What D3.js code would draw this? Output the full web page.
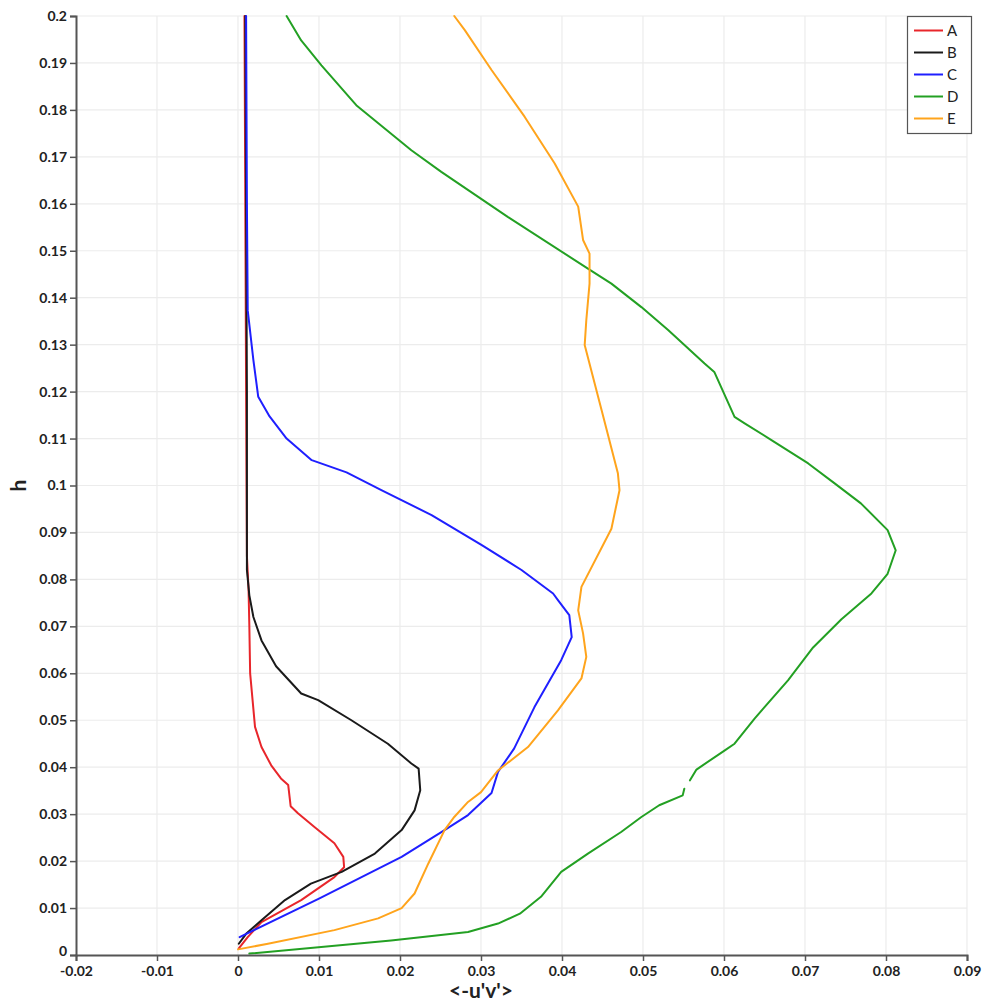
<!DOCTYPE html>
<html>
<head>
<meta charset="utf-8">
<script src="https://cdn.jsdelivr.net/npm/d3@7"></script>
<style>
  html, body { margin: 0; padding: 0; background: #fff; }
  svg { display: block; font-family: Lato, "DejaVu Sans", sans-serif; }
</style>
</head>
<body>
<svg id="chart" width="985" height="1006"></svg>
<script>
// Reynolds shear stress profiles <-u'v'> versus height h
const seriesNames = ["A", "B", "C", "D", "E"];
const seriesColors = ["#e8262b", "#1a1a1a", "#1f1fff", "#23a023", "#ffa41c"];

// [<-u'v'>, h]
const dataA = [
  [0.0001, 0.0014], [0.0012, 0.0038], [0.0029, 0.0070], [0.0078, 0.0117], [0.0119, 0.0166],
  [0.0131, 0.0187], [0.0130, 0.0209], [0.0119, 0.0238], [0.0094, 0.0273], [0.0074, 0.0302],
  [0.0065, 0.0317], [0.0062, 0.0362], [0.0053, 0.0376], [0.0041, 0.0404], [0.0029, 0.0443],
  [0.0021, 0.0486], [0.0018, 0.0543], [0.0015, 0.0600], [0.0014, 0.0700], [0.0013, 0.0780],
  [0.0011, 0.0850], [0.0010, 0.1200], [0.0009, 0.1600], [0.0008, 0.2000]
];
const dataB = [
  [0.0001, 0.0024], [0.0010, 0.0045], [0.0029, 0.0074], [0.0058, 0.0117], [0.0090, 0.0152],
  [0.0128, 0.0177], [0.0169, 0.0216], [0.0202, 0.0266], [0.0218, 0.0308], [0.0225, 0.0351],
  [0.0223, 0.0397], [0.0214, 0.0408], [0.0185, 0.0450], [0.0140, 0.0500], [0.0099, 0.0543],
  [0.0078, 0.0557], [0.0047, 0.0615], [0.0029, 0.0670], [0.0019, 0.0720], [0.0014, 0.0766],
  [0.0011, 0.0820], [0.0011, 0.1200], [0.0010, 0.1600], [0.0009, 0.2000]
];
const dataC = [
  [0.0002, 0.0038], [0.0100, 0.0120], [0.0202, 0.0209], [0.0255, 0.0266], [0.0284, 0.0298],
  [0.0313, 0.0345], [0.0321, 0.0390], [0.0341, 0.0440], [0.0366, 0.0528], [0.0399, 0.0628],
  [0.0412, 0.0677], [0.0409, 0.0724], [0.0395, 0.0756], [0.0389, 0.0770], [0.0350, 0.0820],
  [0.0301, 0.0873], [0.0239, 0.0937], [0.0177, 0.0990], [0.0134, 0.1028], [0.0091, 0.1054],
  [0.0060, 0.1100], [0.0039, 0.1147], [0.0025, 0.1189], [0.0019, 0.1267], [0.0012, 0.1373],
  [0.0011, 0.1600], [0.0010, 0.2000]
];
const dataD = [
  [0.0014, 0.0003], [0.0189, 0.0031], [0.0284, 0.0049], [0.0321, 0.0067], [0.0348, 0.0088],
  [0.0374, 0.0124], [0.0399, 0.0177], [0.0432, 0.0216], [0.0473, 0.0262], [0.0498, 0.0294],
  [0.0520, 0.0319], [0.0549, 0.0340], [0.0551, 0.0354], [NaN, NaN], [0.0558, 0.0372],
  [0.0566, 0.0395], [0.0601, 0.0436], [0.0613, 0.0450], [0.0638, 0.0504], [0.0679, 0.0585],
  [0.0710, 0.0655], [0.0745, 0.0715], [0.0782, 0.0770], [0.0802, 0.0812], [0.0812, 0.0862],
  [0.0802, 0.0905], [0.0769, 0.0962], [0.0737, 0.1004], [0.0704, 0.1047], [0.0662, 0.1093],
  [0.0625, 0.1133], [0.0613, 0.1146], [0.0588, 0.1242], [0.0576, 0.1260], [0.0531, 0.1331],
  [0.0498, 0.1380], [0.0461, 0.1430], [0.0432, 0.1462], [0.0333, 0.1572], [0.0251, 0.1668],
  [0.0214, 0.1714], [0.0146, 0.1810], [0.0103, 0.1895], [0.0078, 0.1948], [0.0060, 0.2000]
];
const dataE = [
  [0.0000, 0.0012], [0.0037, 0.0024], [0.0119, 0.0053], [0.0173, 0.0078], [0.0202, 0.0100],
  [0.0218, 0.0131], [0.0235, 0.0195], [0.0255, 0.0266], [0.0267, 0.0294], [0.0284, 0.0326],
  [0.0300, 0.0347], [0.0321, 0.0393], [0.0358, 0.0443], [0.0395, 0.0521], [0.0424, 0.0589],
  [0.0430, 0.0635], [0.0426, 0.0685], [0.0420, 0.0734], [0.0424, 0.0784], [0.0461, 0.0908],
  [0.0471, 0.0990], [0.0469, 0.1026], [0.0449, 0.1160], [0.0428, 0.1299], [0.0430, 0.1352],
  [0.0434, 0.1430], [0.0434, 0.1494], [0.0426, 0.1523], [0.0420, 0.1594], [0.0391, 0.1686],
  [0.0354, 0.1785], [0.0313, 0.1885], [0.0280, 0.1970], [0.0267, 0.2000]
];
const allSeries = [dataA, dataB, dataC, dataD, dataE];

const xTicks = [-0.02, -0.01, 0, 0.01, 0.02, 0.03, 0.04, 0.05, 0.06, 0.07, 0.08, 0.09];
const yTicks = [0, 0.01, 0.02, 0.03, 0.04, 0.05, 0.06, 0.07, 0.08, 0.09, 0.1,
                0.11, 0.12, 0.13, 0.14, 0.15, 0.16, 0.17, 0.18, 0.19, 0.2];

const margin = { left: 76, right: 18, top: 16, bottom: 51 };
const width = 985, height = 1006;
const svg = d3.select("#chart");

const x = d3.scaleLinear().domain([-0.02, 0.09]).range([margin.left, width - margin.right]);
const y = d3.scaleLinear().domain([0, 0.2]).range([height - margin.bottom, margin.top]);

const fmt = d => d === 0 ? "0" : String(+d.toFixed(2));

// grid
const grid = svg.append("g").attr("stroke", "#ececec").attr("stroke-width", 1.2);
grid.selectAll("line.gx").data(xTicks.slice(1)).join("line")
  .attr("x1", d => x(d)).attr("x2", d => x(d))
  .attr("y1", y(0)).attr("y2", y(0.2));
grid.selectAll("line.gy").data(yTicks.slice(1)).join("line")
  .attr("x1", x(-0.02)).attr("x2", x(0.09))
  .attr("y1", d => y(d)).attr("y2", d => y(d));

// curves
const line = d3.line()
  .defined(d => !isNaN(d[0]))
  .x(d => x(d[0])).y(d => y(d[1]))
  .curve(d3.curveLinear);
svg.append("g").selectAll("path").data(allSeries).join("path")
  .attr("d", line)
  .attr("fill", "none")
  .attr("stroke", (d, i) => seriesColors[i])
  .attr("stroke-width", 2)
  .attr("stroke-linejoin", "round")
  .attr("stroke-linecap", "round");

// axes
const xAxis = d3.axisBottom(x).tickValues(xTicks).tickFormat(fmt).tickSize(6).tickPadding(5);
const yAxis = d3.axisLeft(y).tickValues(yTicks).tickFormat(fmt).tickSize(6).tickPadding(3);

const gx = svg.append("g").attr("transform", `translate(0,${y(0)})`).call(xAxis);
const gy = svg.append("g").attr("transform", `translate(${x(-0.02)},0)`).call(yAxis);
[gx, gy].forEach(g => {
  g.select(".domain").attr("stroke", "#555").attr("stroke-width", 2);
  g.selectAll(".tick line").attr("stroke", "#555").attr("stroke-width", 1.5);
  g.selectAll(".tick text")
    .attr("fill", "#222")
    .attr("font-size", 14)
    .attr("font-weight", "bold")
    .attr("font-family", "Lato, 'DejaVu Sans', sans-serif");
});
// lift the origin label on h so it clears the first <-u'v'> label
gy.selectAll(".tick text").filter(d => d === 0).attr("dy", "0.05em");

// axis titles
svg.append("text")
  .attr("x", x(0.03)).attr("y", 998)
  .attr("text-anchor", "middle")
  .attr("font-size", 21).attr("font-weight", "bold").attr("fill", "#222")
  .text("<-u'v'>");
svg.append("text")
  .attr("transform", `translate(26,${y(0.1)}) rotate(-90)`)
  .attr("text-anchor", "middle")
  .attr("font-size", 21).attr("font-weight", "bold").attr("fill", "#222")
  .text("h");

// legend
const legend = svg.append("g");
legend.append("rect")
  .attr("x", 907.5).attr("y", 16.5).attr("width", 64).attr("height", 117)
  .attr("fill", "#fff").attr("stroke", "#555").attr("stroke-width", 1.2);
const items = legend.selectAll("g.item").data(seriesNames).join("g")
  .attr("transform", (d, i) => `translate(914,${30.5 + i * 22})`);
items.append("line")
  .attr("x1", 0).attr("x2", 29)
  .attr("stroke", (d, i) => seriesColors[i]).attr("stroke-width", 2);
items.append("text")
  .attr("x", 33).attr("y", 0).attr("dy", "0.36em")
  .attr("font-size", 15).attr("fill", "#222")
  .text(d => d);
</script>
</body>
</html>
